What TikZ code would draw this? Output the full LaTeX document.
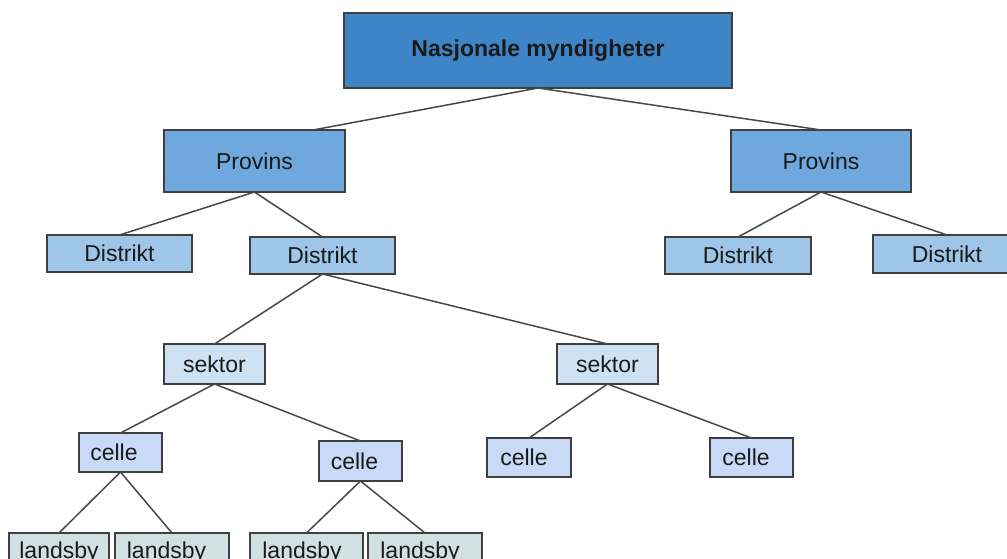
\documentclass[tikz,border=0pt]{standalone}
\usepackage{fontspec}
\setmainfont{Liberation Sans}
\definecolor{cTop}{HTML}{3D85C6}
\definecolor{cProv}{HTML}{6FA8DC}
\definecolor{cDist}{HTML}{9FC5E8}
\definecolor{cSek}{HTML}{CFE2F3}
\definecolor{cCel}{HTML}{C9DAF8}
\definecolor{cLan}{HTML}{D0E0E3}
\definecolor{cBord}{HTML}{3F3F3F}
\definecolor{cLine}{HTML}{484848}
\definecolor{cText}{HTML}{1A1A1A}
\begin{document}
\begin{tikzpicture}[x=1pt,y=-1pt,
  box/.style={draw=cBord,line width=1.4pt,inner sep=0pt,outer sep=0pt,
    text=cText,font=\fontsize{23}{27}\selectfont},
  topbox/.style={box,fill=cTop,minimum width=388pt,minimum height=75pt,font=\fontsize{23}{27}\selectfont\bfseries},
  provbox/.style={box,fill=cProv,minimum width=181pt,minimum height=62pt},
  distbox/.style={box,fill=cDist,minimum width=145pt,minimum height=37pt},
  sekbox/.style={box,fill=cSek,minimum width=101pt,minimum height=40pt},
  celbox/.style={box,fill=cCel,minimum width=83pt,minimum height=39pt},
  lanbox/.style={box,fill=cLan,minimum width=113pt,minimum height=39pt},
  conn/.style={draw=cLine,line width=1.5pt}]
\useasboundingbox (0,0) rectangle (1007,559);
\clip (0,0) rectangle (1007,559);
\fill[white] (0,0) rectangle (1007,559);

\node[topbox] (top) at (538,50.5) {Nasjonale myndigheter};
\node[provbox] (lp) at (254.5,161) {Provins};
\node[provbox,minimum width=180pt] (rp) at (821,161) {Provins};
\node[distbox] (ld) at (119.5,253.5) {Distrikt};
\node[distbox] (md) at (322.5,255.5) {Distrikt};
\node[distbox,minimum width=146pt] (rld) at (738,255.5) {Distrikt};
\node[distbox,minimum width=148pt,minimum height=38pt] (rrd) at (947,254) {Distrikt};
\node[sekbox] (ls) at (214.5,364) {sektor};
\node[sekbox] (rs) at (607.5,364) {sektor};
\node[celbox] (c1) at (120.5,452.5) {celle\hspace*{13pt}};
\node[celbox,minimum height=40pt] (c2) at (360.5,461) {celle\hspace*{12pt}};
\node[celbox,minimum width=84pt] (c3) at (529,457.5) {celle\hspace*{10pt}};
\node[celbox] (c4) at (751.5,457.5) {celle\hspace*{11pt}};
\node[lanbox,minimum width=100pt] (l1) at (59,552.5) {landsby};
\node[lanbox,minimum width=114pt] (l2) at (172,552.5) {landsby\hspace*{11pt}};
\node[lanbox] (l3) at (306.5,552.5) {landsby\hspace*{9pt}};
\node[lanbox,minimum width=114pt] (l4) at (425,552.5) {landsby\hspace*{10pt}};

\draw[conn] (top.south) -- ([xshift=149pt]lp.north west);
\draw[conn] (top.south) -- (rp.north);
\draw[conn] (lp.south) -- (ld.north);
\draw[conn] (lp.south) -- (md.north);
\draw[conn] (rp.south) -- (rld.north);
\draw[conn] (rp.south) -- (rrd.north);
\draw[conn] (md.south) -- (ls.north);
\draw[conn] (md.south) -- (rs.north);
\draw[conn] (ls.south) -- (c1.north);
\draw[conn] (ls.south) -- (c2.north);
\draw[conn] (rs.south) -- (c3.north);
\draw[conn] (rs.south) -- (c4.north);
\draw[conn] (c1.south) -- (l1.north);
\draw[conn] (c1.south) -- (l2.north);
\draw[conn] (c2.south) -- (l3.north);
\draw[conn] (c2.south) -- (l4.north);
\end{tikzpicture}
\end{document}
